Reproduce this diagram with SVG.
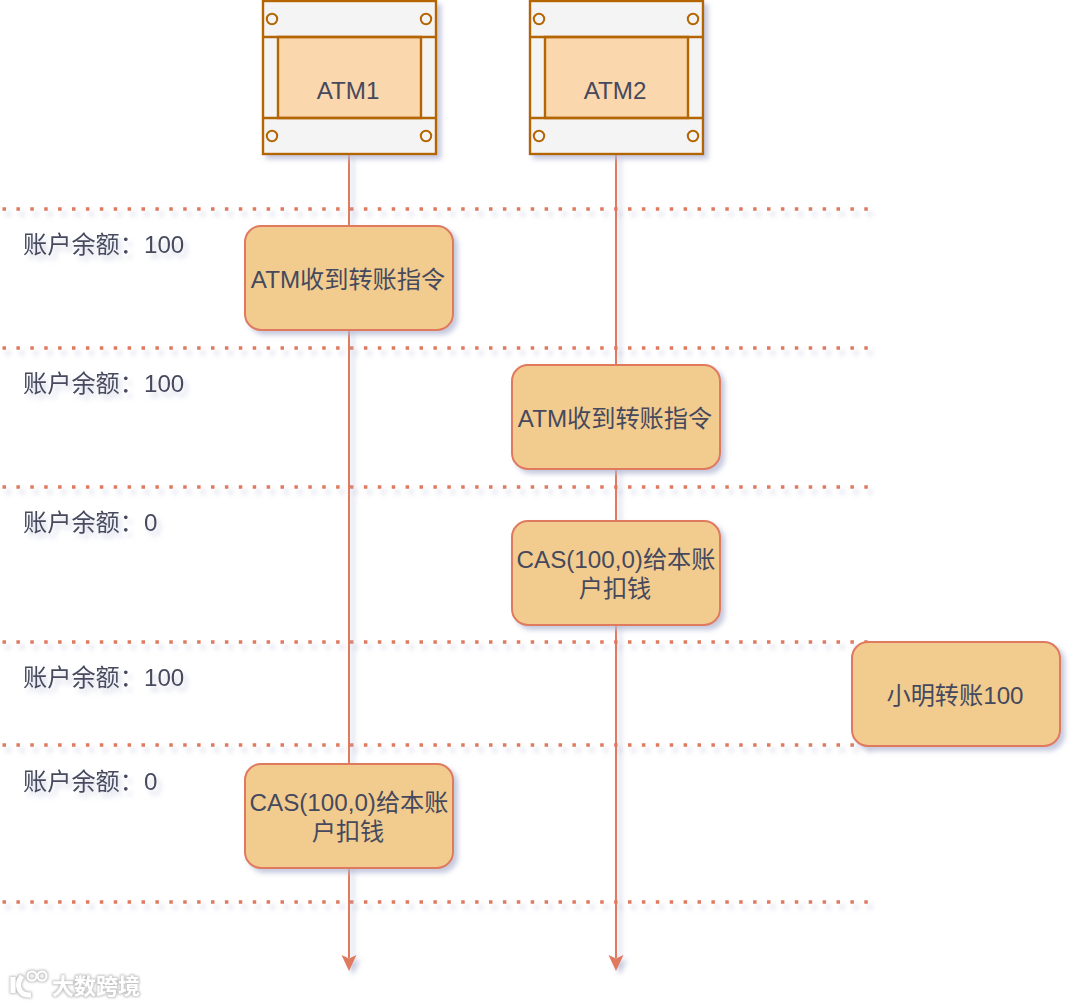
<svg xmlns="http://www.w3.org/2000/svg" width="1080" height="1005" viewBox="0 0 1080 1005">
<style>
text{font-family:"Liberation Sans","Noto Sans CJK SC",sans-serif;font-size:24.2px;fill:#46495d;text-anchor:middle}
.lab{text-anchor:start}
.box{fill:#f2cc8f;stroke:#e07a5f;stroke-width:2}
.dot{fill:none;stroke:#e07a5f;stroke-width:3.5;stroke-dasharray:3.5 10.4}
.life{fill:none;stroke:#e07a5f;stroke-width:2}
.f{fill:#f4f4f4;stroke:#b46504;stroke-width:2.4}
.c{fill:#fad7ac;stroke:#b46504;stroke-width:2.4}
.h{fill:#f4f4f4;stroke:#b46504;stroke-width:2}
</style>
<defs>
<filter id="sh" x="-20%" y="-20%" width="150%" height="150%">
<feGaussianBlur in="SourceAlpha" stdDeviation="2.4"/>
<feOffset dx="4" dy="4"/>
<feColorMatrix values="0 0 0 0 0.45 0 0 0 0 0.48 0 0 0 0 0.65 0 0 0 0.75 0"/>
<feMerge><feMergeNode/><feMergeNode in="SourceGraphic"/></feMerge>
</filter>
<filter id="sl" x="-5%" y="-500%" width="110%" height="1100%">
<feGaussianBlur in="SourceAlpha" stdDeviation="2.4"/>
<feOffset dx="4" dy="5"/>
<feColorMatrix values="0 0 0 0 0.45 0 0 0 0 0.48 0 0 0 0 0.65 0 0 0 0.7 0"/>
<feMerge><feMergeNode/><feMergeNode in="SourceGraphic"/></feMerge>
</filter>
<filter id="st" x="-20%" y="-50%" width="140%" height="200%">
<feGaussianBlur in="SourceAlpha" stdDeviation="2.4"/>
<feOffset dx="4" dy="5"/>
<feColorMatrix values="0 0 0 0 0.45 0 0 0 0 0.48 0 0 0 0 0.65 0 0 0 0.55 0"/>
<feMerge><feMergeNode/><feMergeNode in="SourceGraphic"/></feMerge>
</filter>
<filter id="wm" x="-10%" y="-30%" width="120%" height="160%">
<feMorphology in="SourceAlpha" operator="dilate" radius="1"/>
<feGaussianBlur stdDeviation="1"/>
<feColorMatrix values="0 0 0 0 0.55 0 0 0 0 0.55 0 0 0 0 0.55 0 0 0 1 0"/>
<feMerge><feMergeNode/><feMergeNode in="SourceGraphic"/></feMerge>
</filter>
</defs>

<g id="connectors">
<g filter="url(#sl)">
<path class="dot" d="M2.500 209H868"/>
<path class="dot" d="M2.500 348H868"/>
<path class="dot" d="M2.500 487H868"/>
<path class="dot" d="M2.500 642H868"/>
<path class="dot" d="M2.500 745H868"/>
<path class="dot" d="M2.500 902H868"/>
</g>
<g filter="url(#sh)">
<path class="life" d="M349 154V958"/>
<path class="life" d="M616 154V958"/>
<path d="M341.500 955 L349 958.500 L356.500 955 L349 971 Z" fill="#e07a5f"/>
<path d="M608.500 955 L616 958.500 L623.500 955 L616 971 Z" fill="#e07a5f"/>
</g>
</g>

<g id="atm1">
<rect class="f" x="263" y="1" width="173" height="153" filter="url(#sh)"/>
<rect class="c" x="278" y="37" width="143" height="81"/>
<path class="f" d="M263 37H436M263 118H436" fill="none"/>
<circle class="h" cx="272" cy="19" r="5.200"/><circle class="h" cx="426" cy="19" r="5.200"/>
<circle class="h" cx="272" cy="136" r="5.200"/><circle class="h" cx="426" cy="136" r="5.200"/>
<text x="348" y="99">ATM1</text>
</g>
<g id="atm2">
<rect class="f" x="530" y="1" width="173" height="153" filter="url(#sh)"/>
<rect class="c" x="545" y="37" width="143" height="81"/>
<path class="f" d="M530 37H703M530 118H703" fill="none"/>
<circle class="h" cx="539" cy="19" r="5.200"/><circle class="h" cx="693" cy="19" r="5.200"/>
<circle class="h" cx="539" cy="136" r="5.200"/><circle class="h" cx="693" cy="136" r="5.200"/>
<text x="615" y="99">ATM2</text>
</g>

<g id="n1"><rect class="box" x="245" y="226" width="208" height="104" rx="16" filter="url(#sh)"/><text x="348" y="288">ATM收到转账指令</text></g>
<g id="n2"><rect class="box" x="512" y="365" width="208" height="104" rx="16" filter="url(#sh)"/><text x="615" y="427">ATM收到转账指令</text></g>
<g id="n3"><rect class="box" x="512" y="521" width="208" height="104" rx="16" filter="url(#sh)"/><text x="616" y="568">CAS(100,0)给本账</text><text x="615" y="597">户扣钱</text></g>
<g id="n4"><rect class="box" x="852" y="642" width="208" height="104" rx="16" filter="url(#sh)"/><text x="955" y="704">小明转账100</text></g>
<g id="n5"><rect class="box" x="245" y="764" width="208" height="104" rx="16" filter="url(#sh)"/><text x="349" y="811">CAS(100,0)给本账</text><text x="348" y="840">户扣钱</text></g>

<g id="labels" filter="url(#st)">
<text class="lab" x="23" y="253">账户余额：100</text>
<text class="lab" x="23" y="392">账户余额：100</text>
<text class="lab" x="23" y="531">账户余额：0</text>
<text class="lab" x="23" y="686">账户余额：100</text>
<text class="lab" x="23" y="790">账户余额：0</text>
</g>

<g id="watermark" filter="url(#wm)">
<path d="M13 977V993M22 976C15 985 19 996 31 995" fill="none" stroke="#fff" stroke-width="5"/>
<circle cx="32" cy="976" r="4.500" fill="none" stroke="#fff" stroke-width="2"/>
<circle cx="42" cy="976" r="4.500" fill="none" stroke="#fff" stroke-width="2"/>
<text x="96" y="994" style="font-size:22px;fill:#fff;font-family:'Noto Sans CJK SC','Liberation Sans',sans-serif;font-weight:700">大数跨境</text>
</g>
</svg>
